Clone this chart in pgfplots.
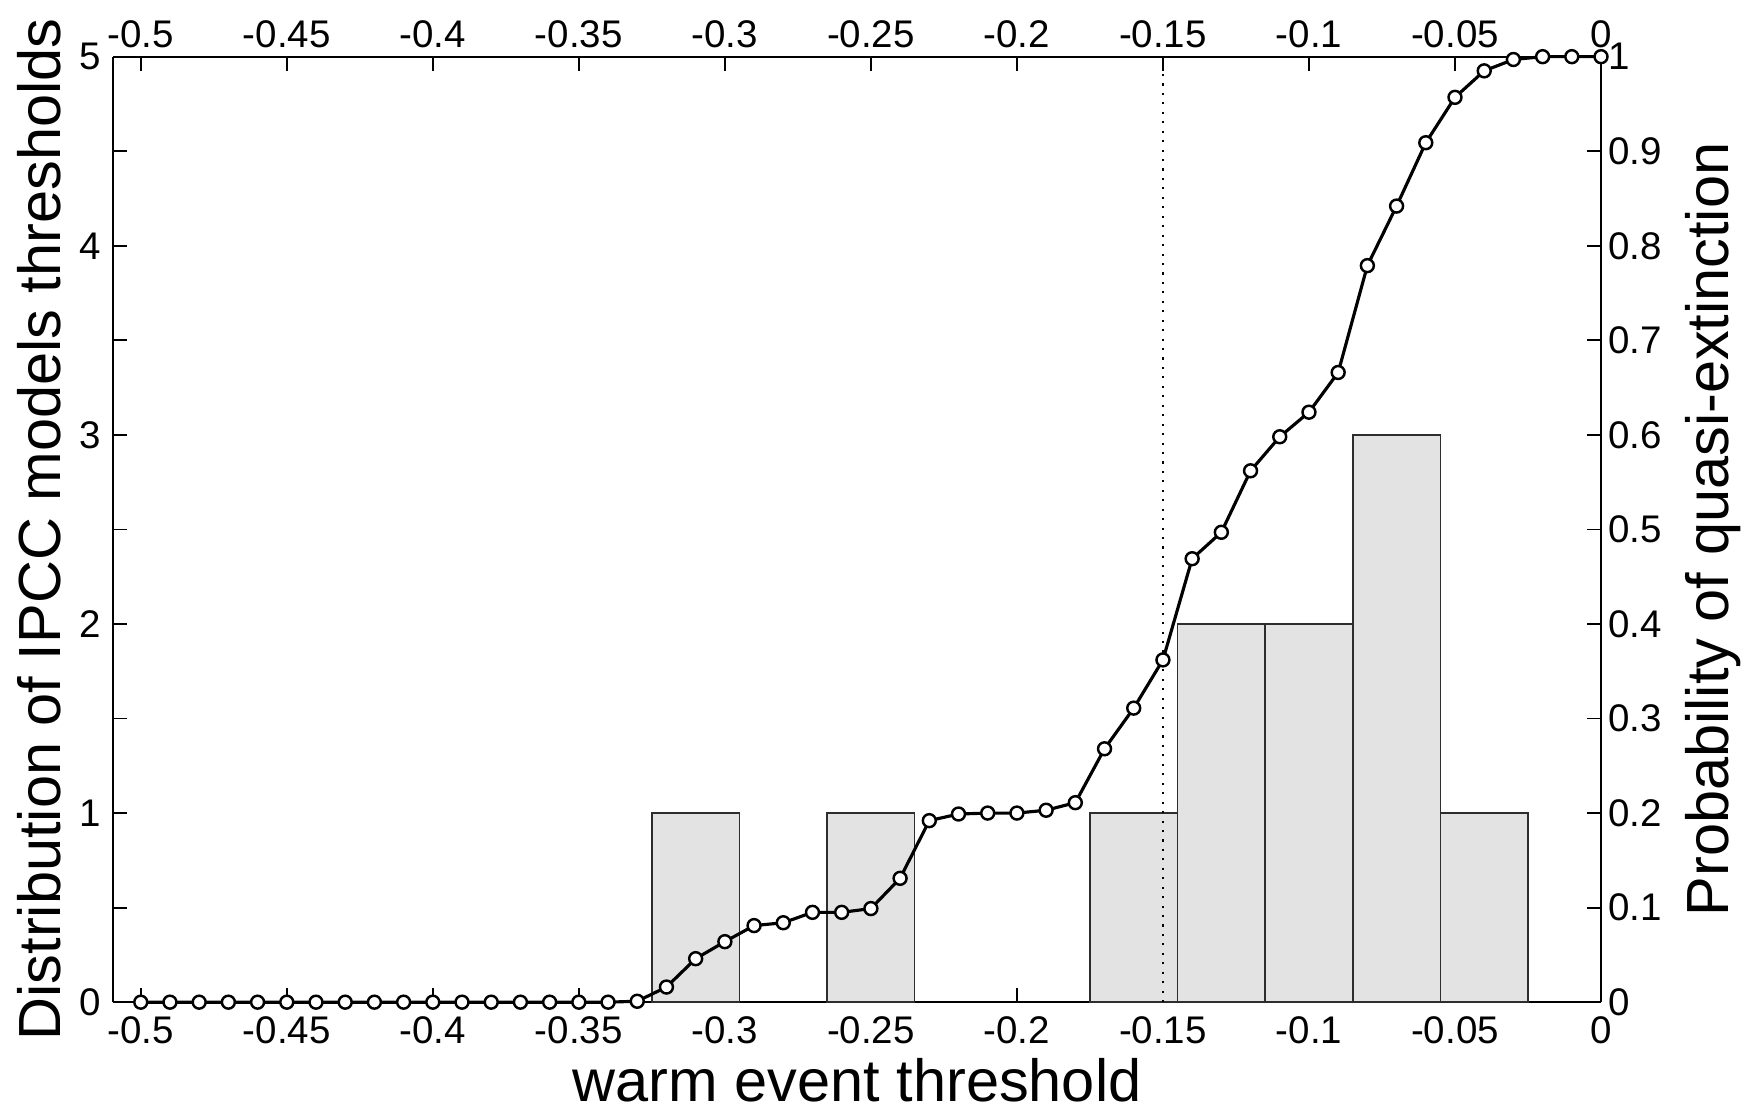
\documentclass[border=0pt]{standalone}
\usepackage{pgfplots}
\pgfplotsset{compat=1.18}
\usepackage{fontspec}
\setmainfont{Liberation Sans}
\definecolor{barfill}{RGB}{227,227,227}
\definecolor{bardraw}{RGB}{45,45,45}

\begin{document}
\begin{tikzpicture}
\pgfplotsset{
  common/.style={
    scale only axis, width=425.14pt, height=270.14pt,
    xmin=-0.5095, xmax=0,
    xtick={-0.5,-0.45,-0.4,-0.35,-0.3,-0.25,-0.2,-0.15,-0.1,-0.05,0},
    xticklabels={-0.5,-0.45,-0.4,-0.35,-0.3,-0.25,-0.2,-0.15,-0.1,-0.05,0},
    tick align=inside, major tick length=4pt,
    tick style={line width=0.5pt, black},
    axis line style={line width=0.6pt, black, -},
    ticklabel style={font=\fontsize{11}{13}\selectfont},
    label style={font=\fontsize{17}{20}\selectfont},
  }
}
\begin{axis}[common, name=ax,
  axis x line*=bottom, axis y line*=left,
  ymin=0, ymax=5,
  ytick={0,0.5,1,1.5,2,2.5,3,3.5,4,4.5,5},
  yticklabels={0,,1,,2,,3,,4,,5},
  xticklabel style={anchor=base, yshift=-11.9pt},
  xlabel={warm event threshold},
  xlabel style={at={(axis description cs:0.5,-0.105)}, anchor=base},
  ylabel={Distribution of IPCC models thresholds},
  ylabel style={at={(axis description cs:-0.0356,0.5)}, anchor=base},
]
\addplot[ybar, bar width=0.03, bar shift=0pt, fill=barfill, draw=bardraw, line width=0.45pt]
  coordinates {(-0.31,1) (-0.25,1) (-0.16,1) (-0.13,2) (-0.10,2) (-0.07,3) (-0.04,1)};
\end{axis}
\begin{axis}[common, clip=false,
  axis x line*=top, axis y line*=right,
  ymin=0, ymax=1,
  ytick={0,0.1,0.2,0.3,0.4,0.5,0.6,0.7,0.8,0.9,1},
  yticklabels={0,0.1,0.2,0.3,0.4,0.5,0.6,0.7,0.8,0.9,1},
  yticklabel style={xshift=-1.5pt},
  xticklabel style={anchor=base, yshift=2.5pt},
  ylabel={Probability of quasi-extinction},
  ylabel style={at={(axis description cs:1.0854,0.5)}, anchor=base},
]
\addplot[black, line width=0.5pt, dash pattern=on 0.6pt off 2.1pt]
  coordinates {(-0.15,0) (-0.15,1)};
\addplot[black, line width=0.9pt, mark=*, mark size=1.85pt,
  mark options={fill=white, draw=black, line width=0.7pt, solid}]
  coordinates {
  (-0.50,0) (-0.49,0) (-0.48,0) (-0.47,0) (-0.46,0) (-0.45,0) (-0.44,0) (-0.43,0)
  (-0.42,0) (-0.41,0) (-0.40,0) (-0.39,0) (-0.38,0) (-0.37,0) (-0.36,0) (-0.35,0)
  (-0.34,0) (-0.33,0.001) (-0.32,0.016) (-0.31,0.046) (-0.30,0.064) (-0.29,0.081)
  (-0.28,0.084) (-0.27,0.095) (-0.26,0.095) (-0.25,0.099) (-0.24,0.131) (-0.23,0.192)
  (-0.22,0.199) (-0.21,0.2) (-0.20,0.2) (-0.19,0.203) (-0.18,0.211) (-0.17,0.268)
  (-0.16,0.311) (-0.15,0.362) (-0.14,0.469) (-0.13,0.497) (-0.12,0.562) (-0.11,0.598)
  (-0.10,0.624) (-0.09,0.666) (-0.08,0.779) (-0.07,0.842) (-0.06,0.909) (-0.05,0.957)
  (-0.04,0.985) (-0.03,0.997) (-0.02,1) (-0.01,1) (0,1)
  };
\end{axis}
\pgfresetboundingbox
\useasboundingbox ([xshift=-32.29pt, yshift=-31pt]ax.south west) rectangle ([xshift=43.14pt, yshift=16.2pt]ax.north east);
\end{tikzpicture}
\end{document}
